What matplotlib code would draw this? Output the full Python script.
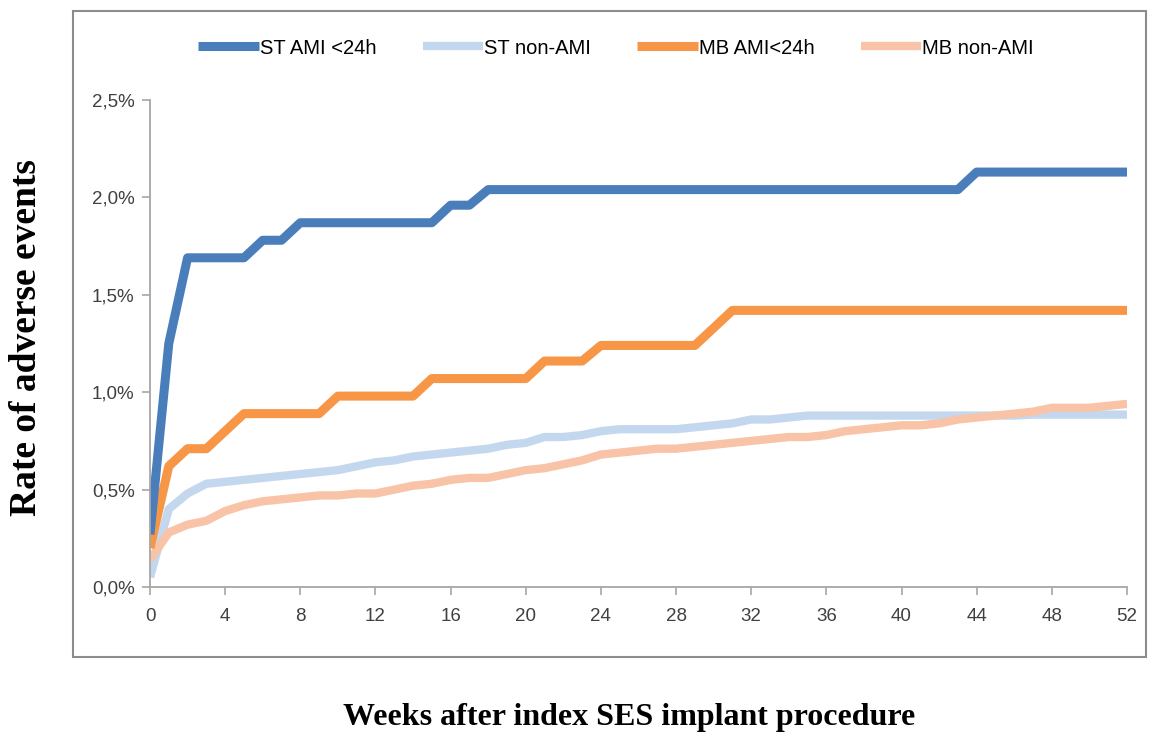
import matplotlib
matplotlib.use("Agg")
import matplotlib.pyplot as plt
from matplotlib.patches import Rectangle

# ---- data (rate of adverse events, %) ----
weeks_st_ami = [0, 1, 2, 5, 6, 7, 8, 15, 16, 17, 18, 43, 44, 52]
st_ami = [0.27, 1.25, 1.69, 1.69, 1.78, 1.78, 1.87, 1.87, 1.96, 1.96, 2.04, 2.04, 2.13, 2.13]

weeks_mb_ami = [0, 1, 2, 3, 5, 9, 10, 14, 15, 20, 21, 23, 24, 29, 31, 52]
mb_ami = [0.20, 0.62, 0.71, 0.71, 0.89, 0.89, 0.98, 0.98, 1.07, 1.07, 1.16, 1.16, 1.24, 1.24, 1.42, 1.42]

weeks = list(range(0, 53))
st_non_ami = [0.05, 0.40, 0.48, 0.53, 0.54, 0.55, 0.56, 0.57, 0.58, 0.59,
              0.60, 0.62, 0.64, 0.65, 0.67, 0.68, 0.69, 0.70, 0.71, 0.73,
              0.74, 0.77, 0.77, 0.78, 0.80, 0.81, 0.81, 0.81, 0.81, 0.82,
              0.83, 0.84, 0.86, 0.86, 0.87, 0.88, 0.88, 0.88, 0.88, 0.88,
              0.88, 0.88, 0.88, 0.88, 0.88, 0.88, 0.88, 0.885, 0.885, 0.885,
              0.885, 0.885, 0.885]
mb_non_ami = [0.14, 0.28, 0.32, 0.34, 0.39, 0.42, 0.44, 0.45, 0.46, 0.47,
              0.47, 0.48, 0.48, 0.50, 0.52, 0.53, 0.55, 0.56, 0.56, 0.58,
              0.60, 0.61, 0.63, 0.65, 0.68, 0.69, 0.70, 0.71, 0.71, 0.72,
              0.73, 0.74, 0.75, 0.76, 0.77, 0.77, 0.78, 0.80, 0.81, 0.82,
              0.83, 0.83, 0.84, 0.86, 0.87, 0.88, 0.89, 0.90, 0.92, 0.92,
              0.92, 0.93, 0.94]

x_ticks = list(range(0, 53, 4))
y_ticks = [0.0, 0.5, 1.0, 1.5, 2.0, 2.5]

labels = ["ST AMI <24h", "ST non-AMI", "MB AMI<24h", "MB non-AMI"]
colors = ["#4a7ebb", "#c3d8ef", "#f79646", "#f8c3a6"]

fig = plt.figure(figsize=(11.49, 7.34), dpi=100)
ax = fig.add_axes([150/1149, 1-587/734, (1127-150)/1149, (587-100)/734])

l2, = ax.plot(weeks, st_non_ami, color=colors[1], lw=6.0, solid_capstyle="butt", solid_joinstyle="round")
l4, = ax.plot(weeks, mb_non_ami, color=colors[3], lw=6.0, solid_capstyle="butt", solid_joinstyle="round")
l3, = ax.plot(weeks_mb_ami, mb_ami, color=colors[2], lw=6.5, solid_capstyle="butt", solid_joinstyle="round")
l1, = ax.plot(weeks_st_ami, st_ami, color=colors[0], lw=6.5, solid_capstyle="butt", solid_joinstyle="round")

ax.set_xlim(0, 52)
ax.set_ylim(0, 2.5)
ax.set_xticks(x_ticks)
ax.set_yticks(y_ticks)
ax.set_yticklabels([("%.1f%%" % v).replace(".", ",") for v in y_ticks])
for s in ["top", "right"]:
    ax.spines[s].set_visible(False)
for s in ["left", "bottom"]:
    ax.spines[s].set_color("#a6a6a6")
    ax.spines[s].set_linewidth(1.3)
ax.tick_params(axis="both", colors="#a6a6a6", length=6, width=1.2, direction="out",
               labelcolor="#404040", labelsize=13.5)
ax.tick_params(axis="x", pad=9)
ax.tick_params(axis="y", pad=5)
for t in ax.get_xticklabels() + ax.get_yticklabels():
    t.set_family("Liberation Sans")

fig.text(27/1149, 1-338/734, "Rate of adverse events", rotation=90, ha="center", va="center",
         family="Liberation Serif", weight="bold", fontsize=27)
fig.text(629/1149, 1-717/734, "Weeks after index SES implant procedure", ha="center", va="center",
         family="Liberation Serif", weight="bold", fontsize=23)

fig.legend([l1, l2, l3, l4], labels, loc="center", bbox_to_anchor=(616/1149, 1-48/734),
           ncol=4, frameon=False, handlelength=3.0, columnspacing=2.3, handletextpad=0.05,
           prop={"family": "Liberation Sans", "size": 14.5})

fig.add_artist(Rectangle((73/1149, 1-657/734), (1146-73)/1149, (657-11)/734,
                         transform=fig.transFigure, fill=False, edgecolor="#8c8c8c", lw=1.5))

fig.savefig("out.png", dpi=100)
